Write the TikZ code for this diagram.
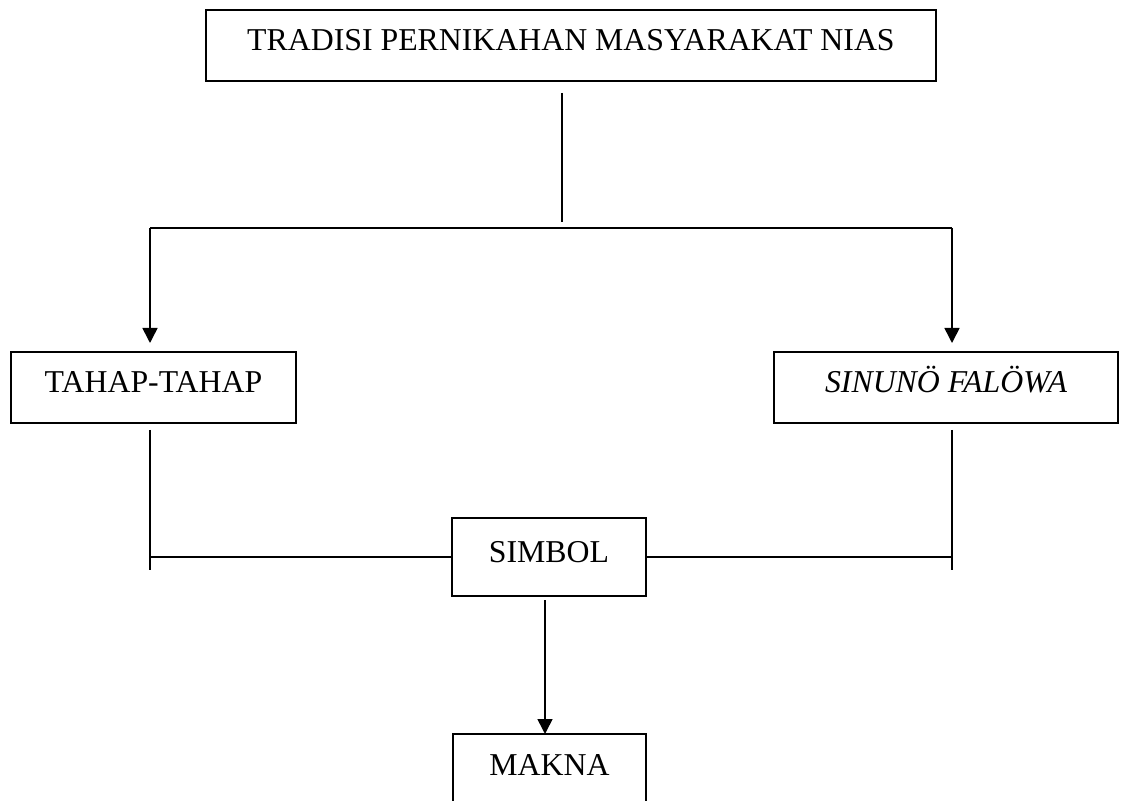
\documentclass[tikz,border=0pt]{standalone}
\usepackage{fontspec}
\setmainfont{Liberation Serif}
\usetikzlibrary{arrows.meta}

\tikzset{
  kotak/.style={draw, line width=0.8pt, anchor=north west, outer sep=0pt,
    inner xsep=0pt, inner ysep=0pt, text height=20.5pt, text depth=15pt},
  garis/.style={line width=0.8pt},
  panah/.style={garis, -{Triangle[length=7.5pt,width=7.5pt]}}
}

\begin{document}
\begin{tikzpicture}[x=0.5pt,y=-0.5pt,font=\fontsize{15.9}{18}\selectfont]
\useasboundingbox (0,0) rectangle (1124,801);
\clip (0,0) rectangle (1124,801);
% kotak-kotak
\node [kotak, minimum width=365pt] (tradisi) at (206,10) {TRADISI PERNIKAHAN MASYARAKAT NIAS};
\node [kotak, minimum width=142.5pt] (tahap) at (11,352) {TAHAP-TAHAP};
\node [kotak, minimum width=172pt] (sinuno) at (774,352) {\itshape SINUNÖ FALÖWA};
\node [kotak, minimum width=97pt, text height=22pt, text depth=17pt] (simbol) at (452,518) {SIMBOL};
\node [kotak, minimum width=96.5pt, text depth=60pt] (makna) at (453,734) {MAKNA};
% titik bantu
\coordinate (atas1) at (562,93);
\coordinate (atas2) at (562,222);
\coordinate (kiri) at (150,228);
\coordinate (kanan) at (952,228);
\coordinate (kiri1) at (150,430);
\coordinate (kiri2) at (150,570);
\coordinate (kanan1) at (952,430);
\coordinate (kanan2) at (952,570);
\coordinate (bawah) at (545,600);
% garis
\draw [garis] (atas1) -- (atas2);
\draw [garis] (kiri) -- (kanan);
\draw [panah, shorten >=4.5pt] (kiri) -- (kiri |- tahap.north);
\draw [panah, shorten >=4.5pt] (kanan) -- (kanan |- sinuno.north);
\draw [garis] (kiri1) -- (kiri2);
\draw [garis] (kanan1) -- (kanan2);
\draw [garis] (kiri1 |- simbol.west) -- (simbol.west);
\draw [garis] (simbol.east) -- (kanan1 |- simbol.east);
\draw [panah] (bawah) -- (bawah |- makna.north);
\end{tikzpicture}
\end{document}
